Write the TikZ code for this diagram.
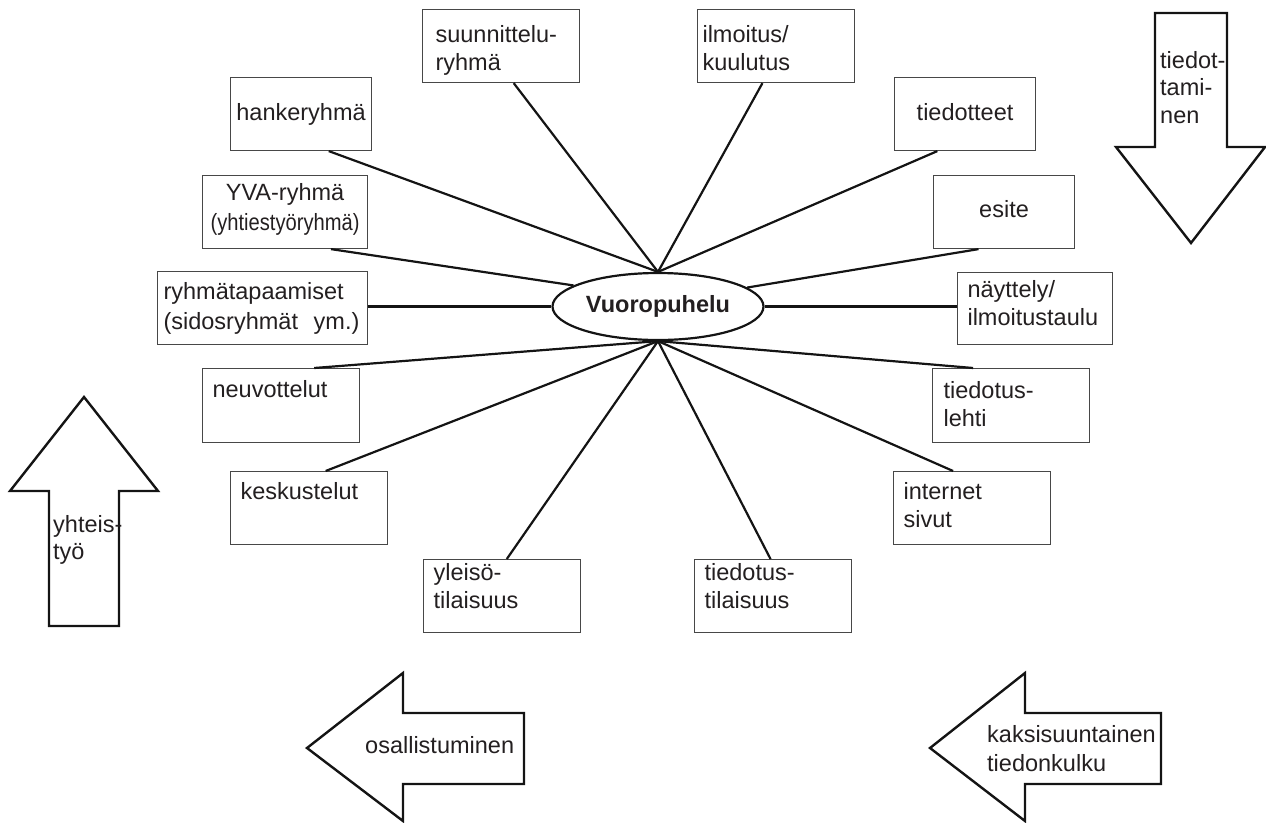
\documentclass[tikz,border=0pt]{standalone}
\usepackage{fontspec}
\setmainfont{Liberation Sans}
\usetikzlibrary{shapes.geometric,calc}
\definecolor{ink}{HTML}{231F20}
\hyphenpenalty=10000
\begin{document}
\begin{tikzpicture}[x=1pt,y=-1pt,
  every node/.style={text=ink, font=\fontsize{23.5}{28}\selectfont},
  box/.style={draw=black!72, line width=1.1pt, rectangle, anchor=north west, inner ysep=0pt},
  tbox/.style n args={5}{box, align=#1, inner xsep=#2, text width=#3, text height=#4, text depth=#5},
  conn/.style={draw=black!92, line width=2.2pt},
  blk/.style={draw=black!92, line width=2.4pt, line join=miter},
  lbl/.style={anchor=base west, inner sep=0pt, align=left},
]
\useasboundingbox (0,0) rectangle (1266,822);

% central ellipse
\node[ellipse, draw=black!92, line width=2.2pt, minimum width=211pt, minimum height=67pt, inner sep=0pt]
  (ell) at (658,306.5) {\bfseries Vuoropuhelu};

% boxes above the ellipse
\node[tbox={center}{5pt}{131pt}{43pt}{30pt}] (hank) at (230,77) {hankeryhmä};
\node[tbox={left}{13pt}{131pt}{33pt}{40pt}] (suunn) at (422,9) {suunnittelu-\\ryhmä};
\node[tbox={left}{5pt}{147pt}{33pt}{40pt}] (ilm) at (697,9) {ilmoitus/\\kuulutus};
\node[tbox={center}{5pt}{131pt}{43pt}{30pt}] (tied) at (894,77) {tiedotteet};

% boxes at the sides
\node[tbox={center}{3pt}{159pt}{25pt}{48pt}] (yva) at (202,175)
  {YVA-ryhmä\\[2pt]\scalebox{0.857}[1]{(yhtiestyöryhmä)}};
\node[tbox={center}{5pt}{131pt}{42pt}{31pt}] (esite) at (933,175) {esite};
\node[tbox={left}{6pt}{198pt}{28pt}{45pt}] (ryhma) at (157,271)
  {ryhmätapaamiset\\[2pt](sidosryhmät\ \ ym.)};
\node[tbox={left}{10pt}{135pt}{25pt}{47pt}] (nay) at (957,272) {näyttely/\\ilmoitustaulu};

% boxes below the ellipse
\node[tbox={left}{10pt}{137pt}{29pt}{45pt}] (neuv) at (202,368) {neuvottelut};
\node[tbox={left}{11pt}{135pt}{30pt}{44pt}] (lehti) at (932,368) {tiedotus-\\lehti};
\node[tbox={left}{10pt}{137pt}{28pt}{45pt}] (kesk) at (230,471) {keskustelut};
\node[tbox={left}{10pt}{137pt}{28pt}{45pt}] (inet) at (893,471) {internet\\sivut};
\node[tbox={left}{10pt}{137pt}{21pt}{52pt}] (yleiso) at (423,559) {yleisö-\\tilaisuus};
\node[tbox={left}{10pt}{137pt}{21pt}{52pt}] (tilai) at (694,559) {tiedotus-\\tilaisuus};

% spokes to the top of the ellipse
\draw[conn] ($(hank.south west)!0.695!(hank.south east)$) -- (ell.north);
\draw[conn] ($(suunn.south west)!0.58!(suunn.south east)$) -- (ell.north);
\draw[conn] ($(ilm.south west)!0.414!(ilm.south east)$) -- (ell.north);
\draw[conn] ($(tied.south west)!0.305!(tied.south east)$) -- (ell.north);

% spokes to the sides
\draw[conn] ($(yva.south west)!0.776!(yva.south east)$) -- (ell.166);
\draw[conn] ($(esite.south west)!0.32!(esite.south east)$) -- (ell.12);
\draw[conn] (ell.west) -- (ell.west -| ryhma.east);
\draw[conn] (ell.east) -- (ell.east -| nay.west);

% spokes to the bottom of the ellipse
\draw[conn] ($(neuv.north west)!0.71!(neuv.north east)$) -- (ell.south);
\draw[conn] ($(kesk.north west)!0.605!(kesk.north east)$) -- (ell.south);
\draw[conn] ($(yleiso.north west)!0.53!(yleiso.north east)$) -- (ell.south);
\draw[conn] ($(tilai.north west)!0.484!(tilai.north east)$) -- (ell.south);
\draw[conn] ($(lehti.north west)!0.26!(lehti.north east)$) -- (ell.south);
\draw[conn] ($(inet.north west)!0.38!(inet.north east)$) -- (ell.south);

% block arrows
\draw[blk] (1155,13) -- (1227,13) -- (1227,147) -- (1265,147) -- (1191,243)
  -- (1116,147) -- (1155,147) -- cycle;
\draw[blk] (84,397) -- (158,491) -- (119,491) -- (119,626) -- (49,626)
  -- (49,491) -- (10,491) -- cycle;
\draw[blk] (307,748) -- (403,673) -- (403,713) -- (524,713) -- (524,784)
  -- (403,784) -- (403,821) -- cycle;
\draw[blk] (930,748) -- (1025,673) -- (1025,713) -- (1161,713) -- (1161,784)
  -- (1025,784) -- (1025,821) -- cycle;

% labels inside the block arrows
\node[lbl, text width=80pt] (tiedottaminen) at (1160,68) {tiedot-\\[-0.5pt]tami-\\[-0.5pt]nen};
\node[lbl, text width=80pt] (yhteistyo) at (53,532) {yhteis-\\[-1pt]työ};
\node[lbl, text width=160pt] (osallistuminen) at (365,753) {osallistuminen};
\node[lbl, text width=175pt] (kaksisuuntainen) at (987,742) {kaksisuuntainen\\[1pt]tiedonkulku};
\end{tikzpicture}
\end{document}
